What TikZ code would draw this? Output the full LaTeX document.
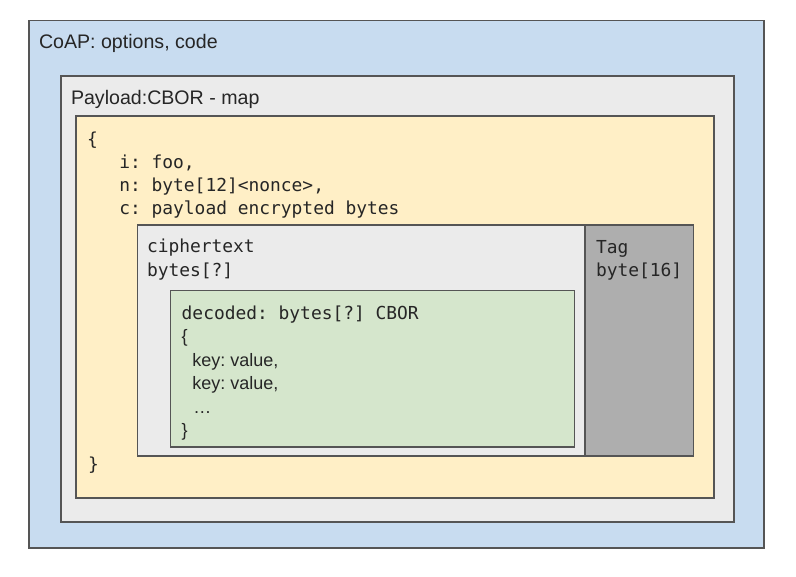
\documentclass[tikz,border=0pt]{standalone}
\usepackage{fontspec}
\setmainfont{Liberation Sans}
\newfontfamily\monof{DejaVu Sans Mono}
\frenchspacing
\definecolor{coapblue}{HTML}{C8DCF0}
\definecolor{paygray}{HTML}{EBEBEB}
\definecolor{mapyellow}{HTML}{FFEFC6}
\definecolor{ciphgray}{HTML}{EBEBEB}
\definecolor{taggray}{HTML}{AEAEAE}
\definecolor{decgreen}{HTML}{D5E6CC}
\definecolor{edge}{HTML}{555555}
\definecolor{ink}{HTML}{262626}
\tikzset{
  boxst/.style={draw=edge, line width=1.3pt, rectangle, inner sep=0pt, outer sep=0pt, anchor=north west},
  sanslbl/.style={anchor=base west, inner sep=0pt, outer sep=0pt, text=ink, font=\frenchspacing\fontsize{19.6}{23.4}\selectfont},
  smallsans/.style={anchor=base west, inner sep=0pt, outer sep=0pt, text=ink, font=\frenchspacing\fontsize{18}{23.4}\selectfont},
  monolbl/.style={anchor=base west, inner sep=0pt, outer sep=0pt, text=ink, font=\monof\frenchspacing\fontsize{17.9}{23.4}\selectfont}
}
\begin{document}
\begin{tikzpicture}[x=1pt,y=-1pt]
\useasboundingbox (0,0) rectangle (796,577);
% boxes
\node[boxst, fill=coapblue, minimum width=735pt, minimum height=527.5pt] (coap) at (29,20.5) {};
\node[boxst, fill=paygray, minimum width=673pt, minimum height=446pt] (payload) at (61,76) {};
\node[boxst, fill=mapyellow, minimum width=638pt, minimum height=382pt] (map) at (76,116) {};
\node[boxst, fill=ciphgray, minimum width=447.5pt, minimum height=231pt] (cipher) at (137.5,225) {};
\node[boxst, fill=taggray, minimum width=108.5pt, minimum height=231pt] (tag) at (585,225) {};
\node[boxst, fill=decgreen, minimum width=404pt, minimum height=156.5pt] (decoded) at (170.5,290.5) {};
% labels
\node[sanslbl] (coaplbl) at (39,49) {CoAP: options, code};
\node[sanslbl] (paylbl) at (71,104.3) {Payload:CBOR - map};
% map content
\node[monolbl] (mopen) at (87,146) {\{};
\node[monolbl] (mi) at (119.3,169) {i: foo,};
\node[monolbl] (mn) at (119.3,192) {n: byte[12]<nonce>,};
\node[monolbl] (mc) at (119.3,215) {c: payload encrypted bytes};
\node[monolbl] (mclose) at (88,471) {\}};
% cipher
\node[monolbl] (ciph1) at (147,252.3) {ciphertext};
\node[monolbl] (ciph2) at (147,276.7) {bytes[?]};
% tag
\node[monolbl] (tag1) at (596,254) {Tag};
\node[monolbl] (tag2) at (596,276.7) {byte[16]};
% decoded
\node[monolbl] (dec1) at (181.7,319.5) {decoded: bytes[?] CBOR};
\node[smallsans] (dopen) at (181.7,343) {\{};
\node[smallsans] (dkey1) at (192.3,366.4) {key: value,};
\node[smallsans] (dkey2) at (192.3,389.8) {key: value,};
\node[smallsans] (ddots) at (193.3,413.2) {…};
\node[smallsans] (dclose) at (181.7,436.6) {\}};
\end{tikzpicture}
\end{document}
